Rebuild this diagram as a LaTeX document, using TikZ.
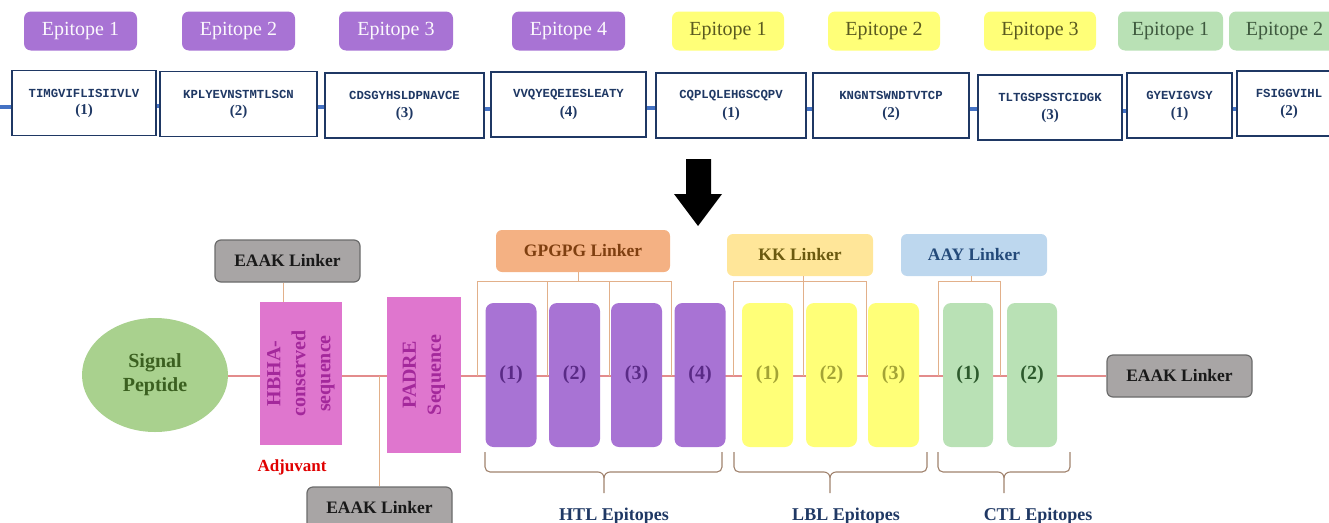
\documentclass[tikz,border=0pt]{standalone}
\usepackage{fontspec}
\setmainfont{Liberation Serif}
\setmonofont{Liberation Mono}
\usetikzlibrary{shapes.geometric}
\definecolor{purp}{HTML}{A873D4}
\definecolor{purptxt}{HTML}{5A2A86}
\definecolor{yel}{HTML}{FFFF78}
\definecolor{yeltxt}{HTML}{5A5A20}
\definecolor{lbltxt}{HTML}{A3A336}
\definecolor{grn}{HTML}{B9E1B5}
\definecolor{grntxt}{HTML}{3F5A3F}
\definecolor{ctltxt}{HTML}{2D5A2D}
\definecolor{seqc}{HTML}{1F3864}
\definecolor{seqln}{HTML}{4472C4}
\definecolor{mag}{HTML}{DF76CE}
\definecolor{magtxt}{HTML}{A3289B}
\definecolor{spf}{HTML}{A9D18E}
\definecolor{sptxt}{HTML}{3B6020}
\definecolor{gryf}{HTML}{A8A5A5}
\definecolor{gryd}{HTML}{6B6B6B}
\definecolor{orf}{HTML}{F4B183}
\definecolor{ortxt}{HTML}{7F3F10}
\definecolor{kkf}{HTML}{FFE699}
\definecolor{kktxt}{HTML}{6B5A10}
\definecolor{blf}{HTML}{BDD7EE}
\definecolor{bltxt}{HTML}{244A7A}
\definecolor{mainc}{HTML}{E38C8C}
\definecolor{brkc}{HTML}{E2B08A}
\definecolor{bracec}{HTML}{A0826D}
\definecolor{adj}{HTML}{E00000}
\begin{document}
\begin{tikzpicture}[x=1pt,y=-1pt,
  eplabel/.style={rounded corners=7pt, minimum height=39pt, inner sep=0pt,
    font=\fontsize{20}{24}\selectfont},
  seqbox/.style={draw=seqc, line width=1.6pt, fill=white, inner sep=0pt, minimum height=65pt},
  seqtxt/.style={text=seqc, inner sep=0pt, font=\ttfamily\bfseries\fontsize{12.3}{14}\selectfont},
  seqnum/.style={text=seqc, inner sep=0pt, font=\bfseries\fontsize{15}{17}\selectfont},
  seqline/.style={draw=seqln, line width=4pt},
  linker/.style={rounded corners=6pt, minimum height=42pt, inner sep=0pt,
    font=\bfseries\fontsize{17.5}{20}\selectfont},
  graybox/.style={linker, fill=gryf, draw=gryd, line width=1.2pt, text=black!90},
  epibox/.style={rounded corners=8pt, minimum width=51pt, minimum height=144pt, inner sep=0pt,
    font=\bfseries\fontsize{20}{24}\selectfont},
  seqblock/.style={fill=mag, inner sep=0pt},
  vtext/.style={rotate=90, align=center, text=magtxt, font=\bfseries\fontsize{20}{25}\selectfont},
  mainline/.style={draw=mainc, line width=1.1pt},
  brk/.style={draw=brkc, line width=1pt},
  bracestyle/.style={draw=bracec, line width=1.1pt},
  caption/.style={anchor=base, text=seqc, font=\bfseries\fontsize{18}{20}\selectfont}
]
\useasboundingbox (0,0) rectangle (1329,522);

% ---------- top row: epitope labels ----------
\foreach \n/\x/\w in {1/80.5/113, 2/238.5/113, 3/396/114, 4/568.5/113}
  \node[eplabel, fill=purp, text=white!95!purp, minimum width=\w pt] (pl\n) at (\x,31) {Epitope \n};
\foreach \n/\x in {1/728, 2/884, 3/1040}
  \node[eplabel, fill=yel, text=yeltxt, minimum width=112pt] (yl\n) at (\x,31) {Epitope \n};
\node[eplabel, fill=grn, text=grntxt, minimum width=105pt] (gl1) at (1170.5,31) {Epitope 1};
\node[eplabel, fill=grn, text=grntxt, minimum width=111pt] (gl2) at (1284.5,31) {Epitope 2};

% ---------- top row: sequence boxes ----------
\foreach \n/\x/\y/\w/\s/\k in {
  1/84/103/144/TIMGVIFLISIIVLV/1,
  2/238.5/104/157/KPLYEVNSTMTLSCN/2,
  3/404.5/105.5/159/CDSGYHSLDPNAVCE/3,
  4/568.5/104.5/155/VVQYEQEIESLEATY/4,
  5/731/105.5/150/CQPLQLEHGSCQPV/1,
  6/891/105.5/156/KNGNTSWNDTVTCP/2,
  7/1050/107.5/144/TLTGSPSSTCIDGK/3,
  8/1179.5/105.5/105/GYEVIGVSY/1,
  9/1289/103.5/104/FSIGGVIHL/2}{
  \node[seqbox, minimum width=\w pt] (s\n) at (\x,\y) {};
  \node[seqtxt] (st\n) at ([yshift=10pt]s\n.center) {\s};
  \node[seqnum] (sn\n) at ([yshift=-8pt]s\n.center) {(\k)};
}
\coordinate (lend) at (0,107);
\draw[seqline] (lend) -- (lend -| s1.west);
\foreach \a/\b in {1/2,2/3,3/4,4/5,5/6,6/7,7/8,8/9}
  \draw[seqline] ([yshift=-3pt]s\a.east) -- ([yshift=-3pt]s\a.east -| s\b.west);

% ---------- big arrow ----------
\fill[black] (686,159) -- (711,159) -- (711,194) -- (722,194) -- (698,226) -- (674,194) -- (686,194) -- cycle;

% ---------- bottom construct: linkers first ----------
\coordinate (m) at (0,376);
\node[graybox, minimum width=145pt] (eaak1) at (287.5,261) {EAAK Linker};
\node[graybox, minimum width=145pt] (eaak2) at (379.5,508) {EAAK Linker};
\node[graybox, minimum width=145pt] (eaak3) at (1179.5,376) {EAAK Linker};
\node[linker, fill=orf, text=ortxt, minimum width=174pt] (gp) at (583,251) {GPGPG Linker};
\node[linker, fill=kkf, text=kktxt, minimum width=146pt] (kk) at (800,255) {KK Linker};
\node[linker, fill=blf, text=bltxt, minimum width=146pt] (aay) at (974,255) {AAY Linker};

% backbone (behind the blocks)
\coordinate (spE) at (228,376);
\draw[mainline] (spE) -- (eaak3.west |- m);

% linker stems
\coordinate (e1) at (283,0);
\draw[brk] (eaak1.south -| e1) -- (e1 |- m);
\coordinate (pd) at (379,0);
\draw[brk] (pd |- m) -- (pd |- eaak2.north);

% GPGPG bracket
\coordinate (g0) at (578,281);
\coordinate (g1) at (477,281);
\coordinate (g2) at (547,281);
\coordinate (g3) at (609,281);
\coordinate (g4) at (671,281);
\draw[brk] (gp.south -| g0) -- (g0);
\draw[brk] (g1) -- (g4);
\foreach \c in {g1,g2,g3,g4} \draw[brk] (\c) -- (\c |- m);

% KK bracket
\coordinate (k1) at (733,281);
\coordinate (k2) at (803,281);
\coordinate (k3) at (866,281);
\draw[brk] (k1) -- (k3);
\draw[brk] (kk.south -| k2) -- (k2 |- m);
\draw[brk] (k1) -- (k1 |- m);
\draw[brk] (k3) -- (k3 |- m);

% AAY bracket
\coordinate (a0) at (971,281);
\coordinate (a1) at (938,281);
\coordinate (a2) at (1000,281);
\draw[brk] (aay.south -| a0) -- (a0);
\draw[brk] (a1) -- (a2);
\draw[brk] (a1) -- (a1 |- m);
\draw[brk] (a2) -- (a2 |- m);

% ---------- blocks ----------
\node[ellipse, fill=spf, minimum width=146pt, minimum height=114pt, inner sep=0pt,
  align=center, text=sptxt, font=\bfseries\fontsize{20}{24}\selectfont] (sp) at (155,375) {Signal\\Peptide};
\node[seqblock, minimum width=82pt, minimum height=143pt] (hbha) at (301,373.5) {};
\node[vtext] (hbhat) at (hbha.center) {HBHA-\\conserved\\sequence};
\node[text=adj, font=\bfseries\fontsize{17}{20}\selectfont, inner sep=0pt] (adjv) at (292,467) {Adjuvant};
\node[seqblock, minimum width=74pt, minimum height=156pt] (padre) at (424,375) {};
\node[vtext] (padret) at (padre.center) {PADRE\\Sequence};

\foreach \n/\x in {1/511, 2/574.5, 3/636.5, 4/700}
  \node[epibox, fill=purp, text=purptxt] (h\n) at (\x,375) {(\n)};
\foreach \n/\x in {1/767.5, 2/831.5, 3/893.5}
  \node[epibox, fill=yel, text=lbltxt] (l\n) at (\x,375) {(\n)};
\foreach \n/\x in {1/968, 2/1032}
  \node[epibox, fill=grn, text=ctltxt, minimum width=50pt] (c\n) at (\x,375) {(\n)};

% braces
\foreach \L/\C/\R in {485/604/722, 734/830/927, 938/1004/1070}{
  \draw[bracestyle] (\L,452) -- (\L,467) to[out=-90,in=180] (\L+5,472) -- (\C-6,472) to[out=0,in=90] (\C,478) -- (\C,493);
  \draw[bracestyle] (\R,452) -- (\R,467) to[out=-90,in=0] (\R-5,472) -- (\C+6,472) to[out=180,in=90] (\C,478);
}
\node[caption] (htl) at (614,520) {HTL Epitopes};
\node[caption] (lbl) at (846,520) {LBL Epitopes};
\node[caption] (ctl) at (1038,520) {CTL Epitopes};
\end{tikzpicture}
\end{document}
